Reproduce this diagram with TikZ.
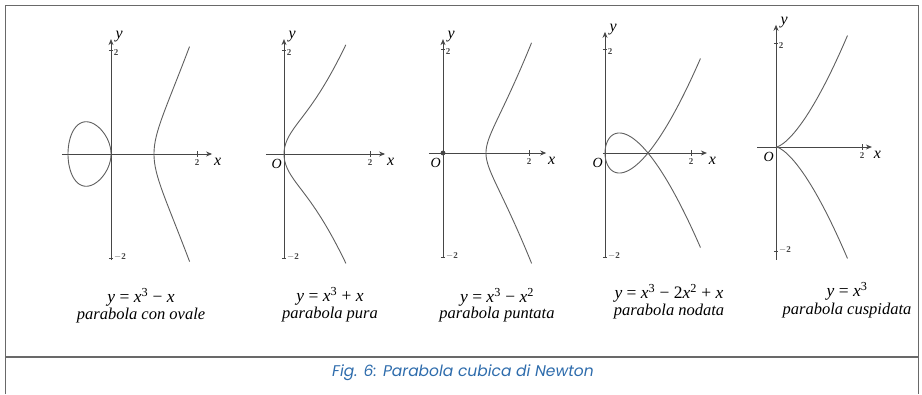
\documentclass[tikz,border=0pt]{standalone}
\usepackage{fontspec}
\setmainfont{Liberation Serif}
\newfontfamily\capfont{Poppins}
\usetikzlibrary{arrows.meta}
\definecolor{capblue}{RGB}{46,108,172}
\definecolor{framegray}{RGB}{105,105,105}
\definecolor{curvegray}{RGB}{95,95,95}
\definecolor{axisgray}{RGB}{70,70,70}
\tikzset{
  frameline/.style={draw=framegray, line width=1.6pt},
  axisline/.style={draw=axisgray, line width=0.8pt, -{Stealth[length=6pt,width=5pt]}},
  curve/.style={draw=curvegray, line width=0.9pt},
  tickmark/.style={draw=axisgray, line width=0.6pt},
  ticklab/.style={font=\fontsize{9}{10}\selectfont\bfseries, text=axisgray, inner sep=0pt},
  axlab/.style={font=\fontsize{16}{18}\selectfont\itshape, inner sep=0pt},
  olab/.style={font=\fontsize{14}{16}\selectfont\itshape, inner sep=0pt},
  formula/.style={font=\fontsize{17.5}{19}\selectfont, inner sep=0pt},
  namelab/.style={font=\fontsize{16.5}{18}\selectfont\itshape, inner sep=0pt},
  figcap/.style={font=\capfont\itshape\fontsize{15.5}{17}\selectfont, text=capblue, inner sep=0pt}
}
\newcommand{\myaxes}[4]{%
  % #1 x start, #2 x end, #3 y top, #4 y bottom
  \coordinate (o) at (0,0);
  \coordinate (xs) at (#1,0);
  \coordinate (xe) at (#2,0);
  \coordinate (yt) at (0,#3);
  \coordinate (yb) at (0,#4);
  \draw[axisline] (xs) -- (xe);
  \draw[axisline] (yb) -- (yt);
  \draw[tickmark] (-0.05,2) -- (0.05,2);
  \draw[tickmark] (-0.05,-2) -- (0.05,-2);
  \draw[tickmark] (2,-0.05) -- (2,0.05);
  \node[ticklab] (t1) at (0.12,1.95) {2};
  \node[ticklab] (t2) at (0.21,-1.98) {$-$2};
  \node[ticklab] (t3) at (2,-0.17) {2};
  \node[axlab] (xl) at ([shift={(0.13,-0.15)}]xe) {x};
  \node[axlab] (yl) at ([shift={(0.19,0.04)}]yt) {y};
}
\begin{document}
\begin{tikzpicture}[x=1pt,y=-1pt]
\useasboundingbox (0,0) rectangle (922,394);
% frame
\draw[frameline] (5.5,394) -- (5.5,5.5) -- (918.5,5.5) -- (918.5,394);
\draw[frameline] (5.5,357) -- (918.5,357);
\node[figcap] (cap) at (463,373) {Fig. 6: Parabola cubica di Newton};

% panel 1: y^2 = x^3 - x
\begin{scope}[shift={(111,154)}, x=43pt, y=52pt]
  \myaxes{-1.14}{2.35}{2.21}{-2.04}
  \draw[curve] plot[domain=-0.91:0.91, samples=80, smooth, variable=\s] ({1+\s*\s},{\s*sqrt((1+\s*\s)*(2+\s*\s))});
  \draw[curve] plot[domain=0:360, samples=120, smooth, variable=\t] ({(cos(\t)-1)/2},{sin(\t)/2*sqrt((3-cos(\t))/2)});
\end{scope}
\node[formula] (f1) at (141,297) {\textit{y} = \textit{x}\textsuperscript{3} − \textit{x}};
\node[namelab] (n1) at (141,316) {parabola con ovale};

% panel 2: y^2 = x^3 + x
\begin{scope}[shift={(284,154)}, x=43pt, y=52pt]
  \myaxes{-0.42}{2.35}{2.21}{-2.0}
  \node[olab] (o2) at (-0.17,-0.19) {O};
  \draw[curve] plot[domain=-1.2:1.2, samples=80, smooth, variable=\s] ({\s*\s},{\s*sqrt(\s*\s*\s*\s+1)});
\end{scope}
\node[formula] (f2) at (330,296) {\textit{y} = \textit{x}\textsuperscript{3} + \textit{x}};
\node[namelab] (n2) at (330,315) {parabola pura};

% panel 3: y^2 = x^3 - x^2
\begin{scope}[shift={(443,153)}, x=43pt, y=52pt]
  \myaxes{-0.33}{2.40}{2.19}{-2.02}
  \node[olab] (o3) at (-0.17,-0.19) {O};
  \fill[axisgray] (0,0) circle[radius=2.4pt];
  \draw[curve] plot[domain=-1.03:1.03, samples=80, smooth, variable=\s] ({1+\s*\s},{\s*(1+\s*\s)});
\end{scope}
\node[formula] (f3) at (497,297) {\textit{y} = \textit{x}\textsuperscript{3} − \textit{x}\textsuperscript{2}};
\node[namelab] (n3) at (497,315) {parabola puntata};

% panel 4: y^2 = x^3 - 2x^2 + x
\begin{scope}[shift={(605,153)}, x=43pt, y=52pt]
  \myaxes{-0.05}{2.37}{2.33}{-2.0}
  \node[olab] (o4) at (-0.17,-0.19) {O};
  \draw[curve] plot[domain=-1.49:1.49, samples=120, smooth, variable=\s] ({\s*\s},{\s*(\s*\s-1)});
\end{scope}
\node[formula] (f4) at (669,293) {\textit{y} = \textit{x}\textsuperscript{3} − 2\textit{x}\textsuperscript{2} + \textit{x}};
\node[namelab] (n4) at (669,312) {parabola nodata};

% panel 5: y^2 = x^3
\begin{scope}[shift={(776,147)}, x=43pt, y=52pt]
  \myaxes{-0.44}{2.23}{2.35}{-2.17}
  \node[olab] (o5) at (-0.17,-0.19) {O};
  \draw[curve] plot[domain=0:1.29, samples=60, smooth, variable=\s] ({\s*\s},{\s*\s*\s});
  \draw[curve] plot[domain=0:1.29, samples=60, smooth, variable=\s] ({\s*\s},{-\s*\s*\s});
\end{scope}
\node[formula] (f5) at (847,291) {\textit{y} = \textit{x}\textsuperscript{3}};
\node[namelab] (n5) at (847,311) {parabola cuspidata};
\end{tikzpicture}
\end{document}
